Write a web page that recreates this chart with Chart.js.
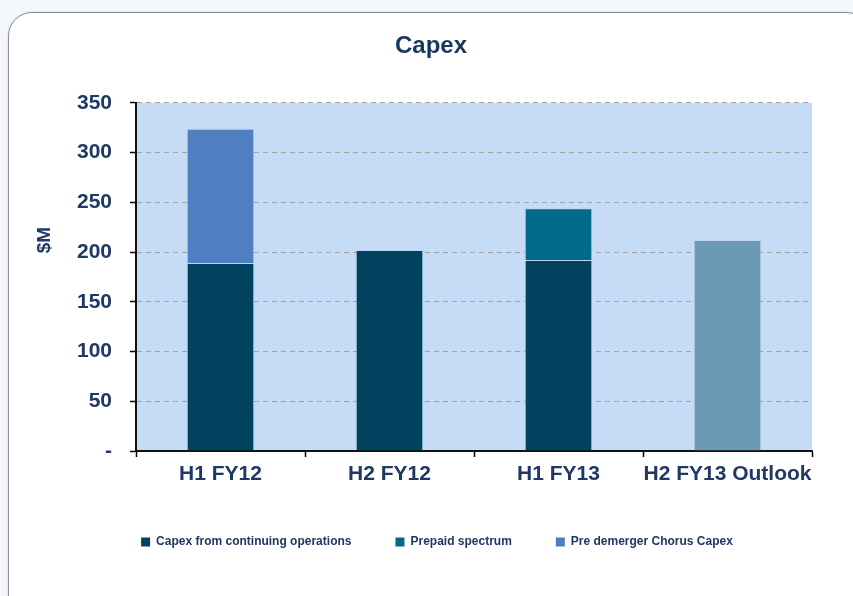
<!DOCTYPE html>
<html>
<head>
<meta charset="utf-8">
<script src="https://cdn.jsdelivr.net/npm/chart.js@4/dist/chart.umd.min.js"></script>
<style>
    html, body { margin: 0; padding: 0; }
    body { width: 853px; height: 596px; background: #f4f7fb; position: relative; overflow: hidden; font-family: 'Liberation Sans', Arial, sans-serif; }
    .card { position: absolute; left: 8px; top: 12px; width: 860px; height: 610px; background: #fff; border: 1.5px solid #8e8e8e; border-radius: 24px; box-shadow: 1px 1px 3px rgba(0,0,0,0.35); }
    #chart { position: absolute; left: 0; top: 0; }
</style>
</head>
<body>
<div class="card"></div>
<canvas id="chart" width="853" height="596"></canvas>
<script>
const categories = ['H1 FY12', 'H2 FY12', 'H1 FY13', 'H2 FY13 Outlook'];
const continuingOps = [189, 202, 192, 212];
const prepaidSpectrum = [null, null, 52, null];
const preDemerger = [135, null, null, null];
const yTicks = [0, 50, 100, 150, 200, 250, 300, 350];

const navy = '#1f3864';
const font = "'Liberation Sans', Arial, sans-serif";
const barEdge = 'rgba(170,200,235,0.3)';

// light blue fill behind the bars
const plotBackground = {
    id: 'plotBackground',
    beforeDraw(chart) {
        const { ctx, chartArea: a } = chart;
        ctx.save();
        ctx.fillStyle = '#c6dbf5';
        ctx.fillRect(a.left, a.top, a.right - a.left, a.bottom - a.top);
        ctx.restore();
    }
};

// "$M" sits above the middle of the axis in the original
const yTitle = {
    id: 'yTitle',
    afterDraw(chart) {
        const ctx = chart.ctx;
        ctx.save();
        ctx.translate(45, 240);
        ctx.rotate(-Math.PI / 2);
        ctx.font = 'bold 19px ' + font;
        ctx.fillStyle = navy;
        ctx.textAlign = 'center';
        ctx.textBaseline = 'middle';
        ctx.fillText('$M', 0, 0);
        ctx.restore();
    }
};

// title and legend sit a bit right of the layout centre
const blockShift = {
    id: 'blockShift',
    afterLayout(chart) {
        chart.legend.left += 16;
        chart.legend.right += 16;
        chart.titleBlock.left += 10;
        chart.titleBlock.right += 10;
    }
};

new Chart(document.getElementById('chart'), {
    type: 'bar',
    data: {
        labels: categories,
        datasets: [
            {
                label: 'Capex from continuing operations',
                data: continuingOps,
                backgroundColor: ['#01435e', '#01435e', '#01435e', '#6b9ab5'],
                borderColor: barEdge,
                borderWidth: 1
            },
            {
                label: 'Prepaid spectrum',
                data: prepaidSpectrum,
                backgroundColor: '#016a8b',
                borderColor: barEdge,
                borderWidth: 1
            },
            {
                label: 'Pre demerger Chorus Capex',
                data: preDemerger,
                backgroundColor: '#4f7fc0',
                borderColor: barEdge,
                borderWidth: 1
            }
        ]
    },
    options: {
        responsive: false,
        animation: false,
        devicePixelRatio: 1,
        barPercentage: 0.4,
        categoryPercentage: 1.0,
        layout: { padding: { left: 30, right: 41, top: 0, bottom: 38 } },
        plugins: {
            title: {
                display: true,
                text: 'Capex',
                color: '#17375e',
                font: { family: font, size: 24, weight: 'bold' },
                padding: { top: 32, bottom: 42 }
            },
            legend: {
                position: 'bottom',
                labels: {
                    color: navy,
                    font: { family: font, size: 12, weight: 'bold' },
                    boxWidth: 9,
                    boxHeight: 9,
                    padding: 44,
                    generateLabels(chart) {
                        const colors = ['#01435e', '#016a8b', '#4f7fc0'];
                        return chart.data.datasets.map((ds, i) => ({
                            text: ds.label,
                            fillStyle: colors[i],
                            strokeStyle: colors[i],
                            lineWidth: 0,
                            fontColor: navy,
                            datasetIndex: i
                        }));
                    }
                }
            },
            tooltip: { enabled: false }
        },
        scales: {
            x: {
                stacked: true,
                offset: true,
                grid: { drawOnChartArea: false, offset: true, tickLength: 6, tickColor: '#000', tickWidth: 1.5 },
                border: { color: '#111', width: 2 },
                ticks: {
                    color: navy,
                    padding: 7,
                    autoSkip: false,
                    maxRotation: 0,
                    minRotation: 0,
                    font: { family: font, size: 21, weight: 'bold', lineHeight: 1 }
                }
            },
            y: {
                stacked: true,
                min: 0,
                max: 350,
                afterBuildTicks(scale) {
                    scale.ticks = yTicks.map(v => ({ value: v }));
                },
                afterFit(scale) {
                    scale.width = 106;
                },
                grid: { color: '#a3a3a3', lineWidth: 1, tickLength: 6, tickColor: '#000', tickWidth: 1.5 },
                border: { color: '#111', width: 2, dash: [5, 4] },
                ticks: {
                    color: navy,
                    padding: 18,
                    font: { family: font, size: 21, weight: 'bold' },
                    callback: v => v === 0 ? '-' : v
                }
            }
        }
    },
    plugins: [plotBackground, yTitle, blockShift]
});
</script>
</body>
</html>
